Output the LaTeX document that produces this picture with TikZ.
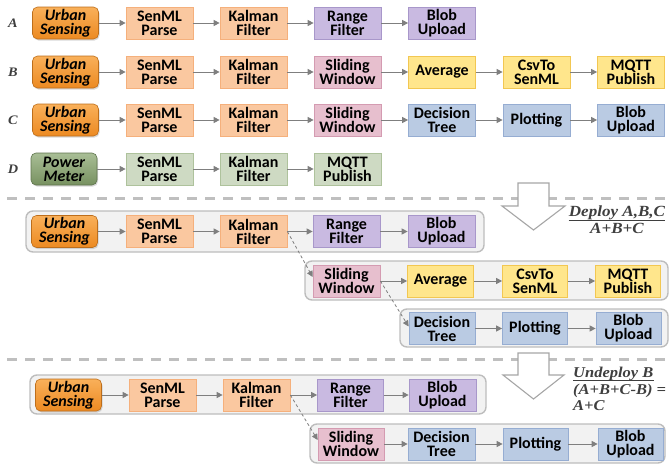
\documentclass[tikz,border=0pt]{standalone}
\usepackage{fontspec}
\newfontfamily\carl{Carlito}
\newfontfamily\serx[FakeStretch=1.1]{Liberation Serif}
\usetikzlibrary{arrows.meta,shadows}
\definecolor{orL}{HTML}{FAC8A0}\definecolor{orB}{HTML}{F5B07C}
\definecolor{puL}{HTML}{C9BAE1}\definecolor{puB}{HTML}{A897CA}
\definecolor{piL}{HTML}{E7BFCE}\definecolor{piB}{HTML}{D49BB1}
\definecolor{yeL}{HTML}{FFE68C}\definecolor{yeB}{HTML}{F2C752}
\definecolor{blL}{HTML}{BACBE3}\definecolor{blB}{HTML}{96ADD2}
\definecolor{grL}{HTML}{CEDAC3}\definecolor{grB}{HTML}{AEC29C}
\definecolor{urT}{HTML}{F9B05A}\definecolor{urD}{HTML}{EC8A22}
\definecolor{pmT}{HTML}{A9BE96}\definecolor{pmD}{HTML}{779160}
\definecolor{arr}{HTML}{7F7F7F}
\definecolor{sep}{HTML}{BFBFBF}
\definecolor{grpF}{HTML}{F2F2F2}\definecolor{grpE}{HTML}{BDBDBD}
\definecolor{bigA}{HTML}{A6A6A6}
\definecolor{optc}{HTML}{3F3F3F}
\tikzset{
  nfont/.style={font=\carl\bfseries\fontsize{16}{14}\selectfont},
  box/.style 2 args={draw=#2, fill=#1, line width=0.7pt, minimum width=67pt,
    minimum height=32pt, inner sep=0pt, align=center, nfont},
  srcbox/.style 2 args={draw=#2!80!black, top color=#1, bottom color=#2, line width=0.6pt,
    rounded corners=5pt, minimum width=66pt, minimum height=32pt, inner sep=0pt,
    align=center, font=\carl\bfseries\itshape\fontsize{16}{14}\selectfont,
    drop shadow={shadow xshift=1pt, shadow yshift=-1.5pt, opacity=0.3}},
  conn/.style={draw=arr, line width=1pt, -{Triangle[length=6pt,width=6pt]}},
  dconn/.style={draw=arr, line width=0.8pt, dash pattern=on 3pt off 2.5pt, -{Triangle[length=6pt,width=6pt]}},
  grp/.style={draw=grpE, fill=grpF, line width=1.4pt, rounded corners=7pt},
  sepline/.style={draw=sep, line width=3pt, dash pattern=on 10pt off 8pt},
  bigarrow/.style={draw=bigA, fill=white, line width=1.1pt, line join=miter},
  rowlab/.style={font=\serx\bfseries\itshape\fontsize{13}{15}\selectfont, text=optc},
  optxt/.style={font=\serx\bfseries\itshape\fontsize{15.5}{16}\selectfont, inner sep=0pt, text=optc},
  optxtb/.style={font=\serx\bfseries\itshape\fontsize{15}{16}\selectfont, inner sep=0pt, text=optc},
  uline/.style={draw=optc, line width=0.9pt},
}
\begin{document}
\begin{tikzpicture}[x=1pt,y=-1pt]
\useasboundingbox (0,0) rectangle (670,466);
% ---------- row labels
\node[rowlab] (lA) at (13,23) {A};
\node[rowlab] (lB) at (13,72) {B};
\node[rowlab] (lC) at (13,120) {C};
\node[rowlab] (lD) at (13,169) {D};
% ---------- Row A
\node[srcbox={urT}{urD}] (uA) at (65.5,23) {Urban\\Sensing};
\node[box={orL}{orB}] (sA) at (159.5,23) {SenML\\Parse};
\node[box={orL}{orB}] (kA) at (253.5,23) {Kalman\\Filter};
\node[box={puL}{puB}] (rA) at (347.5,23) {Range\\Filter};
\node[box={puL}{puB}] (bA) at (442,23) {Blob\\Upload};
\draw[conn] (uA) -- (sA); \draw[conn] (sA) -- (kA); \draw[conn] (kA) -- (rA); \draw[conn] (rA) -- (bA);
% ---------- Row B
\node[srcbox={urT}{urD}] (uB) at (65.5,72) {Urban\\Sensing};
\node[box={orL}{orB}] (sB) at (159.5,72) {SenML\\Parse};
\node[box={orL}{orB}] (kB) at (253.5,72) {Kalman\\Filter};
\node[box={piL}{piB}] (wB) at (347.5,72) {Sliding\\Window};
\node[box={yeL}{yeB}] (aB) at (442,72) {Average};
\node[box={yeL}{yeB}] (cB) at (536.5,72) {CsvTo\\SenML};
\node[box={yeL}{yeB}] (mB) at (631,72) {MQTT\\Publish};
\draw[conn] (uB) -- (sB); \draw[conn] (sB) -- (kB); \draw[conn] (kB) -- (wB);
\draw[conn] (wB) -- (aB); \draw[conn] (aB) -- (cB); \draw[conn] (cB) -- (mB);
% ---------- Row C
\node[srcbox={urT}{urD}] (uC) at (65.5,120) {Urban\\Sensing};
\node[box={orL}{orB}] (sC) at (159.5,120) {SenML\\Parse};
\node[box={orL}{orB}] (kC) at (253.5,120) {Kalman\\Filter};
\node[box={piL}{piB}] (wC) at (347.5,120) {Sliding\\Window};
\node[box={blL}{blB}] (dC) at (442,120) {Decision\\Tree};
\node[box={blL}{blB}] (pC) at (536.5,120) {Plotting};
\node[box={blL}{blB}] (bC) at (631,120) {Blob\\Upload};
\draw[conn] (uC) -- (sC); \draw[conn] (sC) -- (kC); \draw[conn] (kC) -- (wC);
\draw[conn] (wC) -- (dC); \draw[conn] (dC) -- (pC); \draw[conn] (pC) -- (bC);
% ---------- Row D
\node[srcbox={pmT}{pmD}] (pD) at (64,169) {Power\\Meter};
\node[box={grL}{grB}] (sD) at (159.5,169) {SenML\\Parse};
\node[box={grL}{grB}] (kD) at (253.5,169) {Kalman\\Filter};
\node[box={grL}{grB}] (mD) at (347.5,169) {MQTT\\Publish};
\draw[conn] (pD) -- (sD); \draw[conn] (sD) -- (kD); \draw[conn] (kD) -- (mD);
% ---------- separator 1 + big arrow 1
\draw[sepline] (7,198) -- (668,198);
\draw[bigarrow] (518,183) -- (549,183) -- (549,206) -- (565,206) -- (533.5,230) -- (502,206) -- (518,206) -- cycle;
\node[optxt, anchor=base] (dep1) at (617,216.7) {Deploy A,B,C};
\draw[uline] ([yshift=-3.6pt]dep1.base west) -- ([yshift=-3.6pt]dep1.base east);
\node[optxt, anchor=base] (dep2) at (617,233) {A+B+C};
% ---------- Deploy groups
\draw[grp] (26,211) rectangle (484,252);
\draw[grp] (305,261) rectangle (668,300);
\draw[grp] (400,309) rectangle (668,347);
\node[srcbox={urT}{urD}] (u1) at (64.5,231.5) {Urban\\Sensing};
\node[box={orL}{orB}] (s1) at (159.5,231.5) {SenML\\Parse};
\node[box={orL}{orB}] (k1) at (253.5,231.5) {Kalman\\Filter};
\node[box={puL}{puB}] (r1) at (346.5,231.5) {Range\\Filter};
\node[box={puL}{puB}] (b1) at (441.5,231.5) {Blob\\Upload};
\draw[conn] (u1) -- (s1); \draw[conn] (s1) -- (k1); \draw[conn] (k1) -- (r1); \draw[conn] (r1) -- (b1);
\node[box={piL}{piB}] (w2) at (346.5,281) {Sliding\\Window};
\node[box={yeL}{yeB}, minimum width=66pt] (a2) at (440.5,281) {Average};
\node[box={yeL}{yeB}, minimum width=65pt] (c2) at (535,281) {CsvTo\\SenML};
\node[box={yeL}{yeB}, minimum width=65pt] (m2) at (628,281) {MQTT\\Publish};
\draw[conn] (w2) -- (a2); \draw[conn] (a2) -- (c2); \draw[conn] (c2) -- (m2);
\node[box={blL}{blB}, minimum width=66pt] (d3) at (442,328.5) {Decision\\Tree};
\node[box={blL}{blB}, minimum width=65pt] (p3) at (535,328.5) {Plotting};
\node[box={blL}{blB}, minimum width=65pt] (b3) at (628.5,328.5) {Blob\\Upload};
\draw[conn] (d3) -- (p3); \draw[conn] (p3) -- (b3);
\draw[dconn] (k1.east) -- ([yshift=4pt]w2.west);
\draw[dconn] (w2.east) -- ([yshift=2pt]d3.west);
% ---------- separator 2 + big arrow 2
\draw[sepline] (7,359) -- (668,359);
\draw[bigarrow] (518,353) -- (549,353) -- (549,375) -- (564,375) -- (533.5,399) -- (503,375) -- (518,375) -- cycle;
\node[optxtb, anchor=base west] (und1) at (573,377) {Undeploy B};
\draw[uline] ([yshift=-3.6pt]und1.base west) -- ([yshift=-3.6pt]und1.base east);
\node[optxtb, anchor=base west] (und2) at (573,394) {(A+B+C-B) =};
\node[optxtb, anchor=base west] (und3) at (573,410.5) {A+C};
% ---------- Undeploy groups
\draw[grp] (30,375) rectangle (486,414);
\draw[grp] (310,424) rectangle (665,463);
\node[srcbox={urT}{urD}] (u4) at (68.5,395) {Urban\\Sensing};
\node[box={orL}{orB}] (s4) at (162.5,395) {SenML\\Parse};
\node[box={orL}{orB}] (k4) at (256.5,395) {Kalman\\Filter};
\node[box={puL}{puB}, minimum width=66pt] (r4) at (350.5,395) {Range\\Filter};
\node[box={puL}{puB}] (b4) at (442.5,395) {Blob\\Upload};
\draw[conn] (u4) -- (s4); \draw[conn] (s4) -- (k4); \draw[conn] (k4) -- (r4); \draw[conn] (r4) -- (b4);
\node[box={piL}{piB}, minimum width=66pt] (w5) at (351,444) {Sliding\\Window};
\node[box={blL}{blB}] (d5) at (441.5,444) {Decision\\Tree};
\node[box={blL}{blB}, minimum width=65pt] (p5) at (535.5,444) {Plotting};
\node[box={blL}{blB}, minimum width=65pt] (b5) at (630.5,444) {Blob\\Upload};
\draw[conn] (w5) -- (d5); \draw[conn] (d5) -- (p5); \draw[conn] (p5) -- (b5);
\draw[dconn] (k4.east) -- ([yshift=4pt]w5.west);
\end{tikzpicture}
\end{document}
